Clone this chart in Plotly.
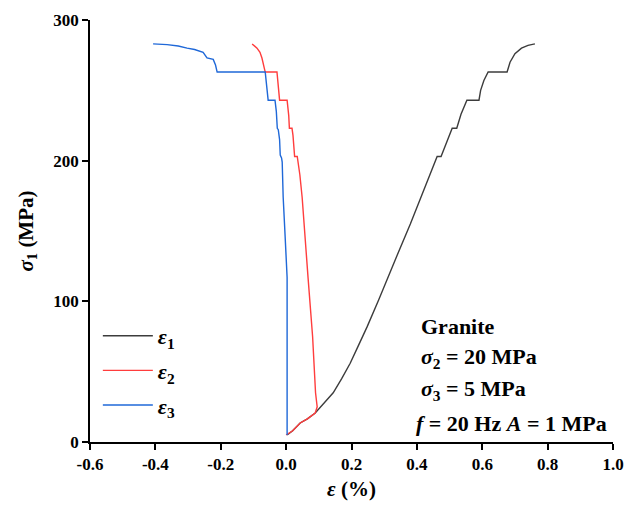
import plotly.graph_objects as go

# ε1 (axial strain) – loading path
e1_x = [0.003, 0.02, 0.043, 0.065, 0.089, 0.11, 0.144, 0.17, 0.196, 0.22, 0.248, 0.283, 0.309, 0.34, 0.38, 0.42,
        0.462, 0.474, 0.49, 0.508, 0.522, 0.535, 0.553, 0.59, 0.595, 0.605, 0.618, 0.676, 0.685, 0.70, 0.72, 0.74, 0.761]
e1_y = [5, 8, 13.5, 16.5, 20.6, 26, 35, 45, 56, 68, 82, 101, 115, 133, 155, 178,
        203, 203, 213, 223, 223, 233, 243, 243, 250, 257, 263, 263, 270, 276, 280, 282, 283]

# ε2 (intermediate principal strain)
e2_x = [0.0, 0.02, 0.043, 0.065, 0.089, 0.095, 0.090, 0.081, 0.067, 0.058, 0.049, 0.042, 0.037,
        0.034, 0.026, 0.024, 0.021, 0.018, 0.010, 0.008, 0.005, 0.003, -0.020, -0.022, -0.025, -0.028,
        -0.064, -0.068, -0.074, -0.080, -0.089, -0.104]
e2_y = [5, 8, 13.5, 16.5, 20.6, 25, 35, 75, 117, 146, 174, 190, 200,
        203, 203, 210, 218, 223, 223, 232, 240, 243, 243, 250, 258, 263,
        263, 268, 273, 277, 280, 283]

# ε3 (minor principal strain)
e3_x = [0.003, 0.003, 0.003, -0.003, -0.009, -0.012, -0.014, -0.018, -0.020, -0.024, -0.027, -0.030,
        -0.034, -0.055, -0.058, -0.062, -0.064, -0.211, -0.216, -0.223, -0.242, -0.254, -0.28, -0.303,
        -0.33, -0.364, -0.407]
e3_y = [5, 60, 117, 146, 174, 199, 202, 204, 215, 222, 223, 235,
        243, 243, 250, 258, 263, 263, 268, 272, 273, 277, 279, 280,
        281.5, 282.5, 283]

x_ticks = [-0.6, -0.4, -0.2, 0.0, 0.2, 0.4, 0.6, 0.8, 1.0]
x_tick_text = ["-0.6", "-0.4", "-0.2", "0.0", "0.2", "0.4", "0.6", "0.8", "1.0"]
y_ticks = [0, 100, 200, 300]

series = [
    ("<b><i>ε</i><sub>1</sub></b>", e1_x, e1_y, "#3c3c3c"),
    ("<b><i>ε</i><sub>2</sub></b>", e2_x, e2_y, "#ff3d3d"),
    ("<b><i>ε</i><sub>3</sub></b>", e3_x, e3_y, "#1f68d8"),
]

SERIF = "Liberation Serif"

fig = go.Figure()
for i, (name, xs, ys, col) in enumerate(series):
    fig.add_trace(go.Scatter(x=xs, y=ys, mode="lines", name=name, legendgroup=str(i),
                             line=dict(color=col, width=1.4)))

notes = ["<b>Granite</b>",
         "<b><i>σ</i><sub>2</sub> = 20 MPa</b>",
         "<b><i>σ</i><sub>3</sub> = 5 MPa</b>",
         "<b><i>f</i> = 20 Hz <i>A</i> = 1 MPa</b>"]
note_y = [82, 59.5, 37, 13.5]
note_x = [0.407, 0.407, 0.407, 0.391]
for t, xx, yy in zip(notes, note_x, note_y):
    fig.add_annotation(x=xx, y=yy, xref="x", yref="y", text=t, showarrow=False,
                       xanchor="left", yanchor="middle",
                       font=dict(family=SERIF, size=22, color="black"))

axis_common = dict(showline=True, linecolor="black", linewidth=1.5, ticks="outside",
                   ticklen=6, tickwidth=1.5, tickcolor="black", showgrid=False, zeroline=False,
                   automargin=False,
                   tickfont=dict(family=SERIF, size=17, color="black", weight="bold"))

fig.update_xaxes(range=[-0.6, 1.0], tickvals=x_ticks, ticktext=x_tick_text,
                 title=dict(text="<b><i>ε</i> (%)</b>", font=dict(family=SERIF, size=21, color="black"),
                            standoff=8),
                 **axis_common)
fig.update_yaxes(range=[0, 300], tickvals=y_ticks,
                 title=dict(text="<b><i>σ</i><sub>1</sub> (MPa)</b>", font=dict(family=SERIF, size=21, color="black"),
                            standoff=14),
                 **axis_common)

fig.update_layout(
    width=625, height=507,
    margin=dict(l=90, r=12, t=20, b=65),
    paper_bgcolor="white", plot_bgcolor="white",
    showlegend=True,
    legend=dict(x=0.015, y=0.301, xanchor="left", yanchor="top", bgcolor="rgba(0,0,0,0)",
                font=dict(family=SERIF, size=22, color="black"), itemwidth=50,
                traceorder="grouped", tracegroupgap=3),
)

fig.write_html("out.html")
